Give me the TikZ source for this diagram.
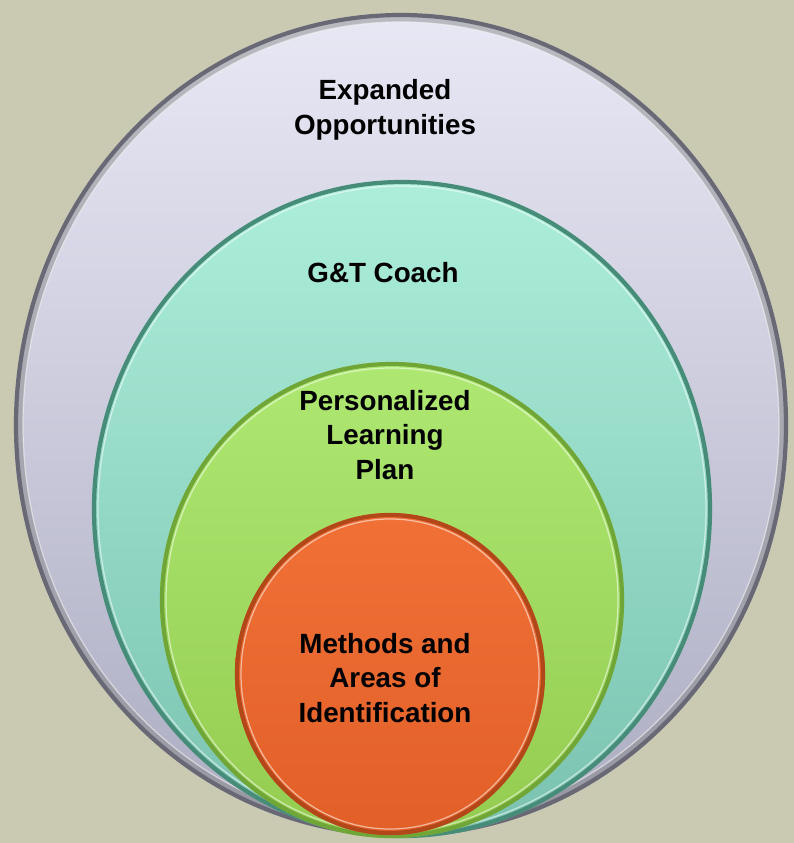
\documentclass[tikz,border=0pt]{standalone}
\usepackage{fontspec}
\setmainfont{Liberation Sans}
\usetikzlibrary{shapes.geometric}

\definecolor{bgpaper}{RGB}{202,201,177}
\definecolor{outertop}{RGB}{232,232,245}
\definecolor{outerbot}{RGB}{172,172,194}
\definecolor{outerrim}{RGB}{105,105,118}
\definecolor{coachtop}{RGB}{172,238,218}
\definecolor{coachbot}{RGB}{122,194,176}
\definecolor{coachrim}{RGB}{70,140,120}
\definecolor{plantop}{RGB}{174,232,114}
\definecolor{planbot}{RGB}{148,204,80}
\definecolor{planrim}{RGB}{112,165,55}
\definecolor{idtop}{RGB}{240,112,54}
\definecolor{idbot}{RGB}{226,96,40}
\definecolor{idrim}{RGB}{178,72,26}

\begin{document}
\begin{tikzpicture}[
    label/.style={font=\fontsize{15.8}{19.8}\selectfont\bfseries, align=center, text=black},
    rim/.style={line width=2.4pt},
    band/.style={line width=3.6pt, opacity=0.45},
    shine/.style={line width=0.7pt, white, opacity=0.55}
  ]

  % paper
  \fill[bgpaper] (0,0) rectangle (15.88,-16.86);
  \useasboundingbox (0,0) rectangle (15.88,-16.86);

  % outer ring: expanded opportunities
  \shade[top color=outertop, bottom color=outerbot] (8.02,-8.50) ellipse [x radius=7.74cm, y radius=8.24cm];
  \draw[band, gray] (8.02,-8.50) ellipse [x radius=7.62cm, y radius=8.12cm];
  \draw[rim, outerrim] (8.02,-8.50) ellipse [x radius=7.70cm, y radius=8.20cm];
  \draw[shine] (8.02,-8.50) ellipse [x radius=7.56cm, y radius=8.06cm];

  % coach
  \shade[top color=coachtop, bottom color=coachbot] (8.04,-10.18) ellipse [x radius=6.20cm, y radius=6.58cm];
  \draw[rim, coachrim] (8.04,-10.18) ellipse [x radius=6.16cm, y radius=6.54cm];
  \draw[shine] (8.04,-10.18) ellipse [x radius=6.08cm, y radius=6.46cm];

  % learning plan
  \shade[top color=plantop, bottom color=planbot] (7.84,-12.00) ellipse [x radius=4.64cm, y radius=4.76cm];
  \draw[rim, planrim] (7.84,-12.00) ellipse [x radius=4.60cm, y radius=4.72cm];
  \draw[shine] (7.84,-12.00) ellipse [x radius=4.52cm, y radius=4.64cm];

  % identification
  \shade[top color=idtop, bottom color=idbot] (7.80,-13.48) ellipse [x radius=3.10cm, y radius=3.22cm];
  \draw[rim, idrim] (7.80,-13.48) ellipse [x radius=3.06cm, y radius=3.18cm];
  \draw[shine] (7.80,-13.48) ellipse [x radius=2.98cm, y radius=3.10cm];

  \node[label] (opps) at (7.70,-2.20) {Expanded\\Opportunities};
  \node[label] (coach) at (7.66,-5.46) {G\&T Coach};
  \node[label] (plan) at (7.70,-8.70) {Personalized\\Learning\\Plan};
  \node[label] (ident) at (7.70,-13.56) {Methods and\\Areas of\\Identification};

\end{tikzpicture}
\end{document}
